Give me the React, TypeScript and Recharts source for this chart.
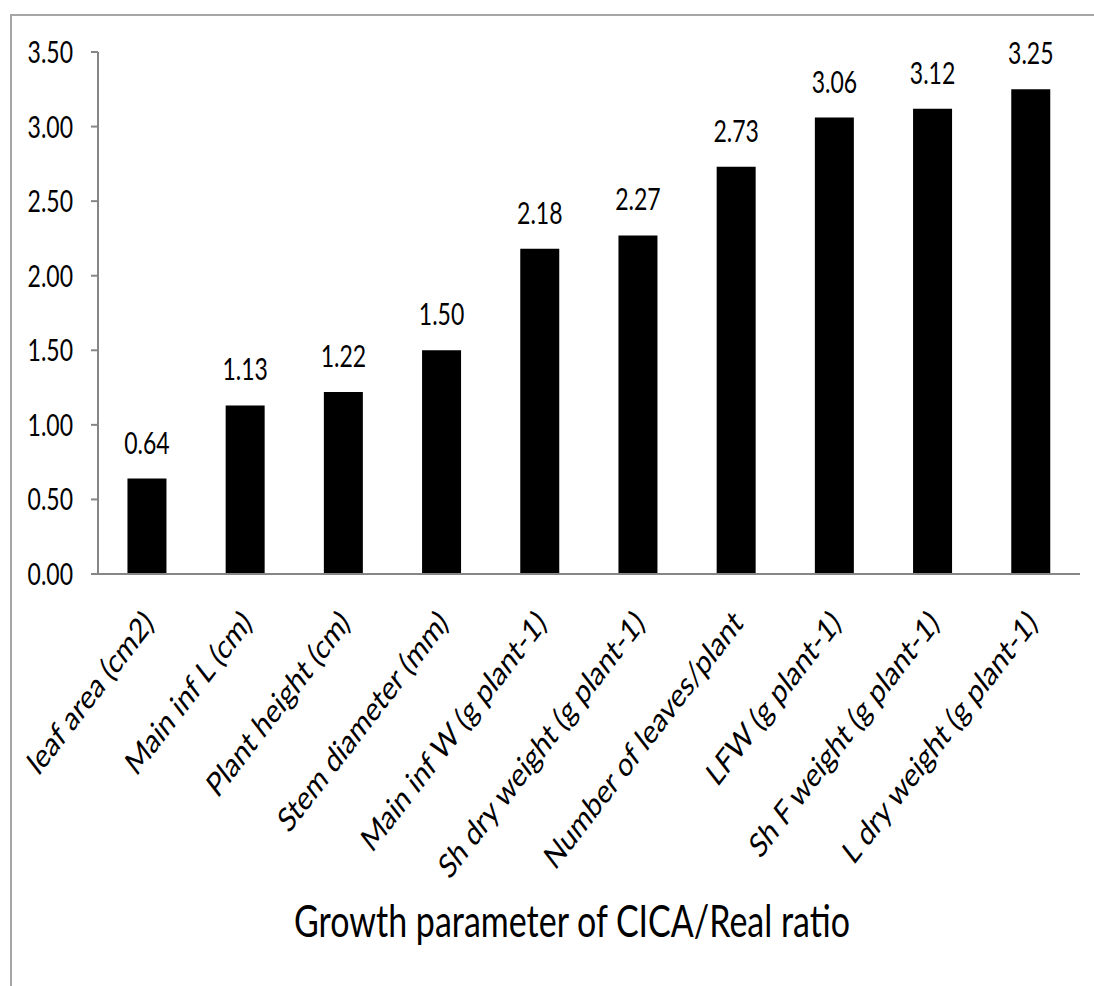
import { BarChart, Bar, XAxis, YAxis, LabelList } from 'recharts';

const categories = [
  'leaf area (cm2)',
  'Main inf L (cm)',
  'Plant height (cm)',
  'Stem diameter (mm)',
  'Main inf W (g plant-1)',
  'Sh dry weight (g plant-1)',
  'Number of leaves/plant',
  'LFW (g plant-1)',
  'Sh F weight (g plant-1)',
  'L dry weight (g plant-1)',
];
const ratios = [0.64, 1.13, 1.22, 1.5, 2.18, 2.27, 2.73, 3.06, 3.12, 3.25];
const yTicks = [0, 0.5, 1, 1.5, 2, 2.5, 3, 3.5];
const boundaryTicks = [0, 1, 2, 3, 4, 5, 6, 7, 8, 9, 10];
const axisTitle = 'Growth parameter of CICA/Real ratio';

const data = categories.map((name, i) => ({ name, ratio: ratios[i] }));

const FONT = 'Lato, "Open Sans", sans-serif';
const STRETCH = 1.3;
const AXIS_GRAY = '#868686';

const YTick = (props: any) => {
  const { x, y, payload } = props;
  return (
    <text
      transform={`translate(${x + 1},${y + 11}) scale(1,${STRETCH})`}
      textAnchor="end"
      fontFamily={FONT}
      fontSize={23}
      fill="#000"
    >
      {Number(payload.value).toFixed(2)}
    </text>
  );
};

const CategoryTick = (props: any) => {
  const { x, y, payload } = props;
  return (
    <text
      transform={`translate(${x + 8},${y + 31}) scale(1,${STRETCH}) rotate(-45)`}
      textAnchor="end"
      fontFamily={FONT}
      fontSize={26}
      fill="#000"
    >
      {payload.value}
    </text>
  );
};

const ValueLabel = (props: any) => {
  const { x, y, width, value } = props;
  return (
    <text
      transform={`translate(${x + width / 2},${y - 25}) scale(1,${STRETCH})`}
      textAnchor="middle"
      fontFamily={FONT}
      fontSize={23}
      fill="#000"
    >
      {Number(value).toFixed(2)}
    </text>
  );
};

const AxisTitle = (props: any) => {
  const { viewBox } = props;
  return (
    <text
      transform={`translate(${viewBox.x + viewBox.width / 2 - 17},${viewBox.y + viewBox.height - 49}) scale(1,${STRETCH})`}
      textAnchor="middle"
      fontFamily={FONT}
      fontSize={34}
      fill="#000"
    >
      {axisTitle}
    </text>
  );
};

export default function App() {
  return (
    <div style={{ position: 'absolute', left: 0, top: 0, width: 1094, height: 986, overflow: 'hidden', background: '#fff' }}>
      <div
        style={{
          position: 'absolute',
          left: 10,
          top: 14,
          width: 2000,
          height: 2000,
          borderTop: '2px solid #a6a6a6',
          borderLeft: '2px solid #a6a6a6',
        }}
      />
      <div style={{ position: 'absolute', left: 0, top: 0 }}>
        <BarChart
          width={1094}
          height={986}
          data={data}
          margin={{ top: 52, right: 14, bottom: 0, left: 0 }}
          barCategoryGap="30%"
        >
          <XAxis
            xAxisId="bounds"
            type="number"
            domain={[0, 10]}
            ticks={boundaryTicks}
            tick={false}
            tickSize={12}
            height={12}
            stroke={AXIS_GRAY}
            strokeWidth={2}
          />
          <XAxis
            xAxisId="cat"
            dataKey="name"
            axisLine={false}
            tickLine={false}
            interval={0}
            height={400}
            tick={<CategoryTick />}
            label={<AxisTitle />}
          />
          <YAxis
            domain={[0, 3.5]}
            ticks={yTicks}
            width={98}
            tickSize={7}
            tickMargin={19}
            stroke={AXIS_GRAY}
            strokeWidth={2}
            tick={<YTick />}
          />
          <Bar dataKey="ratio" xAxisId="cat" fill="#000" isAnimationActive={false}>
            <LabelList dataKey="ratio" content={<ValueLabel />} />
          </Bar>
        </BarChart>
      </div>
    </div>
  );
}
